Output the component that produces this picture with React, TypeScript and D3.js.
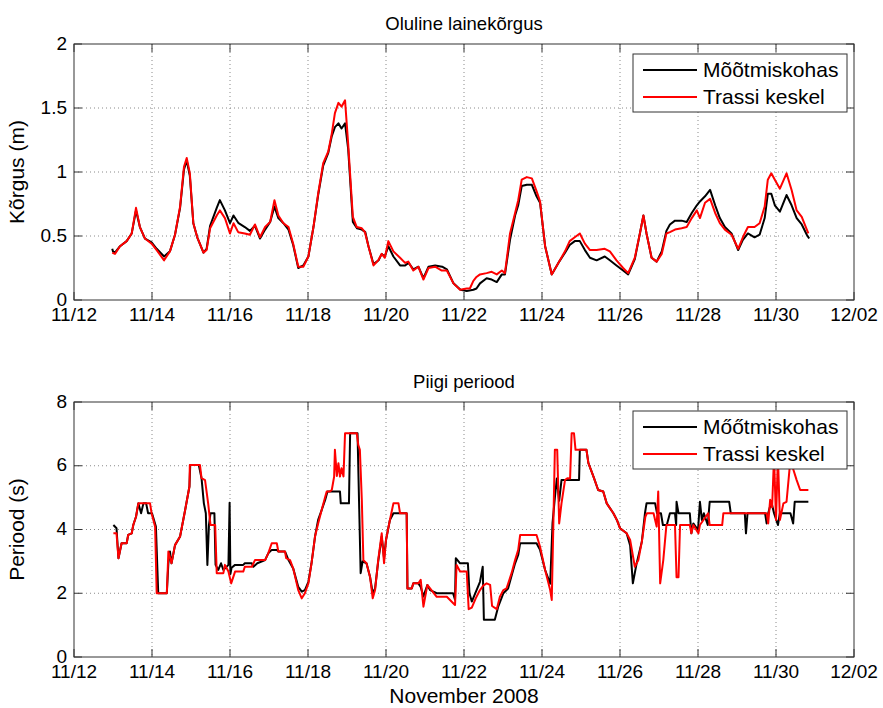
import * as d3 from "d3";

// time is in days after 11/12/2008 00:00
const startDate = new Date(2008, 10, 12).getTime();
const dayMs = 864e5;

const xTickDays = [0, 2, 4, 6, 8, 10, 12, 14, 16, 18, 20];
const hsTicks = [0, 0.5, 1, 1.5, 2];
const tpTicks = [0, 2, 4, 6, 8];
const seriesNames = ["Mõõtmiskohas", "Trassi keskel"];
const seriesNamesLower = ["Mőőtmiskohas", "Trassi keskel"];

// significant wave height (m), measurement site
const hsMeasured: [number, number][] = [
  [0.98, 0.4], [1.0, 0.38], [1.05, 0.37], [1.18, 0.42], [1.35, 0.46], [1.48, 0.52], [1.59, 0.7],
  [1.69, 0.57], [1.82, 0.48], [1.99, 0.45], [2.12, 0.4], [2.31, 0.34], [2.46, 0.38], [2.59, 0.51],
  [2.72, 0.72], [2.82, 1.02], [2.89, 1.09], [2.97, 0.97], [3.06, 0.6], [3.16, 0.49], [3.32, 0.37],
  [3.4, 0.4], [3.49, 0.58], [3.66, 0.72], [3.74, 0.78], [3.87, 0.7], [4.0, 0.6], [4.09, 0.66],
  [4.22, 0.6], [4.38, 0.57], [4.51, 0.54], [4.64, 0.58], [4.77, 0.48], [4.9, 0.55], [5.03, 0.61],
  [5.14, 0.73], [5.24, 0.64], [5.37, 0.6], [5.5, 0.55], [5.62, 0.43], [5.75, 0.25], [5.88, 0.27],
  [6.01, 0.34], [6.14, 0.57], [6.26, 0.82], [6.39, 1.05], [6.52, 1.15], [6.61, 1.28], [6.69, 1.35],
  [6.78, 1.38], [6.86, 1.34], [6.95, 1.38], [7.03, 1.18], [7.15, 0.61], [7.26, 0.56], [7.38, 0.55],
  [7.47, 0.53], [7.55, 0.42], [7.68, 0.28], [7.81, 0.31], [7.89, 0.36], [7.97, 0.34], [8.06, 0.42],
  [8.19, 0.34], [8.36, 0.27], [8.49, 0.27], [8.58, 0.29], [8.7, 0.24], [8.83, 0.26], [8.96, 0.17],
  [9.09, 0.26], [9.26, 0.27], [9.44, 0.26], [9.56, 0.24], [9.73, 0.13], [9.91, 0.08], [10.07, 0.07],
  [10.24, 0.08], [10.32, 0.09], [10.41, 0.13], [10.58, 0.17], [10.71, 0.16], [10.84, 0.14],
  [10.97, 0.2], [11.05, 0.2], [11.18, 0.47], [11.31, 0.66], [11.39, 0.74], [11.48, 0.89],
  [11.61, 0.9], [11.74, 0.9], [11.86, 0.81], [11.95, 0.76], [12.08, 0.42], [12.25, 0.2],
  [12.42, 0.29], [12.59, 0.37], [12.71, 0.43], [12.84, 0.46], [12.97, 0.46], [13.1, 0.39],
  [13.23, 0.33], [13.4, 0.31], [13.61, 0.34], [13.74, 0.31], [13.91, 0.27], [14.08, 0.23],
  [14.21, 0.2], [14.38, 0.32], [14.51, 0.52], [14.6, 0.66], [14.68, 0.52], [14.81, 0.33],
  [14.94, 0.3], [15.07, 0.38], [15.19, 0.54], [15.28, 0.59], [15.41, 0.62], [15.58, 0.62],
  [15.71, 0.61], [15.84, 0.68], [15.97, 0.74], [16.05, 0.77], [16.18, 0.81], [16.31, 0.86],
  [16.44, 0.74], [16.56, 0.64], [16.69, 0.57], [16.86, 0.52], [17.03, 0.39], [17.15, 0.47],
  [17.28, 0.52], [17.45, 0.49], [17.58, 0.51], [17.71, 0.64], [17.79, 0.83], [17.88, 0.83],
  [17.97, 0.74], [18.1, 0.69], [18.27, 0.82], [18.4, 0.74], [18.53, 0.64], [18.66, 0.59],
  [18.79, 0.51], [18.85, 0.48],
];

// significant wave height (m), route centre
const hsTrassi: [number, number][] = [
  [0.98, 0.37], [1.05, 0.36], [1.18, 0.42], [1.35, 0.46], [1.48, 0.52], [1.59, 0.72], [1.69, 0.57],
  [1.82, 0.48], [1.99, 0.44], [2.12, 0.39], [2.31, 0.31], [2.46, 0.38], [2.59, 0.51], [2.72, 0.73],
  [2.82, 1.04], [2.89, 1.11], [2.97, 0.99], [3.06, 0.6], [3.16, 0.49], [3.32, 0.37], [3.4, 0.39],
  [3.49, 0.56], [3.66, 0.66], [3.74, 0.7], [3.87, 0.64], [4.0, 0.52], [4.09, 0.6], [4.21, 0.53],
  [4.38, 0.52], [4.51, 0.51], [4.64, 0.59], [4.77, 0.49], [4.9, 0.57], [5.03, 0.61], [5.14, 0.78],
  [5.24, 0.66], [5.37, 0.6], [5.5, 0.57], [5.62, 0.44], [5.75, 0.26], [5.88, 0.26], [6.01, 0.34],
  [6.14, 0.57], [6.26, 0.83], [6.39, 1.07], [6.52, 1.16], [6.61, 1.3], [6.69, 1.46], [6.78, 1.54],
  [6.86, 1.51], [6.95, 1.56], [7.03, 1.22], [7.15, 0.65], [7.25, 0.57], [7.38, 0.56], [7.46, 0.53],
  [7.55, 0.42], [7.68, 0.27], [7.8, 0.31], [7.89, 0.36], [7.97, 0.33], [8.06, 0.46], [8.19, 0.38],
  [8.36, 0.33], [8.49, 0.29], [8.57, 0.3], [8.7, 0.23], [8.83, 0.26], [8.96, 0.16], [9.09, 0.25],
  [9.26, 0.26], [9.43, 0.23], [9.56, 0.23], [9.73, 0.13], [9.9, 0.08], [10.07, 0.09], [10.15, 0.09],
  [10.24, 0.15], [10.32, 0.18], [10.41, 0.2], [10.58, 0.21], [10.71, 0.22], [10.84, 0.2],
  [10.97, 0.23], [11.05, 0.21], [11.18, 0.52], [11.31, 0.68], [11.39, 0.78], [11.48, 0.94],
  [11.61, 0.96], [11.74, 0.95], [11.86, 0.85], [11.95, 0.77], [12.08, 0.42], [12.25, 0.2],
  [12.42, 0.29], [12.59, 0.38], [12.71, 0.46], [12.84, 0.49], [12.97, 0.52], [13.1, 0.44],
  [13.23, 0.39], [13.4, 0.39], [13.61, 0.4], [13.74, 0.38], [13.91, 0.31], [14.08, 0.25],
  [14.21, 0.21], [14.38, 0.33], [14.51, 0.52], [14.6, 0.66], [14.68, 0.52], [14.81, 0.33],
  [14.94, 0.3], [15.07, 0.36], [15.19, 0.52], [15.28, 0.53], [15.41, 0.55], [15.58, 0.56],
  [15.71, 0.57], [15.84, 0.64], [15.97, 0.7], [16.05, 0.64], [16.18, 0.76], [16.31, 0.79],
  [16.44, 0.68], [16.56, 0.6], [16.69, 0.55], [16.86, 0.51], [17.03, 0.4], [17.15, 0.49],
  [17.28, 0.57], [17.45, 0.57], [17.58, 0.6], [17.71, 0.73], [17.79, 0.94], [17.88, 0.99],
  [17.97, 0.94], [18.1, 0.87], [18.27, 0.99], [18.4, 0.86], [18.53, 0.7], [18.66, 0.65],
  [18.79, 0.55], [18.83, 0.52],
];

// peak period (s), measurement site
const tpMeasured: [number, number][] = [
  [1.01, 4.14], [1.09, 4.04], [1.14, 3.1], [1.22, 3.57], [1.35, 3.57], [1.39, 3.83], [1.48, 3.88],
  [1.52, 4.14], [1.59, 4.4], [1.65, 4.82], [1.72, 4.51], [1.78, 4.82], [1.85, 4.82], [1.9, 4.51],
  [2.0, 4.51], [2.1, 4.09], [2.16, 2.0], [2.38, 2.0], [2.42, 2.94], [2.46, 3.31], [2.5, 2.94],
  [2.59, 3.51], [2.72, 3.78], [2.85, 4.61], [2.96, 5.35], [2.98, 6.02], [3.2, 6.02], [3.27, 5.61],
  [3.33, 4.82], [3.38, 4.51], [3.42, 2.89], [3.46, 4.14], [3.5, 4.51], [3.6, 4.51], [3.63, 2.89],
  [3.7, 2.73], [3.77, 2.94], [3.83, 2.73], [3.96, 2.89], [3.99, 4.84], [4.01, 2.6], [4.04, 2.8],
  [4.13, 2.89], [4.34, 2.89], [4.38, 2.94], [4.56, 2.94], [4.6, 2.83], [4.7, 2.94], [4.9, 3.04],
  [4.98, 3.25], [5.07, 3.36], [5.2, 3.36], [5.24, 3.31], [5.41, 3.31], [5.5, 3.04], [5.62, 2.78],
  [5.75, 2.2], [5.84, 2.05], [5.92, 2.1], [6.01, 2.36], [6.09, 2.94], [6.18, 3.78], [6.26, 4.3],
  [6.35, 4.61], [6.44, 4.93], [6.5, 5.19], [6.82, 5.19], [6.84, 4.82], [7.05, 4.82], [7.08, 7.02],
  [7.27, 7.02], [7.35, 2.63], [7.4, 3.0], [7.5, 2.94], [7.59, 2.52], [7.66, 2.0], [7.72, 2.15],
  [7.8, 3.0], [7.89, 3.78], [7.95, 3.1], [8.0, 3.67], [8.1, 4.3], [8.19, 4.51], [8.53, 4.51],
  [8.55, 2.15], [8.66, 2.15], [8.7, 2.31], [8.83, 2.31], [8.89, 2.2], [8.96, 1.9], [9.06, 2.26],
  [9.13, 2.1], [9.3, 2.0], [9.72, 2.0], [9.77, 1.8], [9.79, 3.1], [9.9, 2.94], [10.1, 2.94],
  [10.14, 2.0], [10.2, 1.74], [10.41, 2.36], [10.48, 2.83], [10.51, 1.17], [10.79, 1.17],
  [10.88, 1.59], [11.01, 2.0], [11.13, 2.15], [11.22, 2.55], [11.31, 2.94], [11.39, 3.2],
  [11.44, 3.57], [11.86, 3.57], [11.95, 3.36], [12.08, 2.73], [12.21, 2.3], [12.27, 4.2],
  [12.33, 5.0], [12.38, 5.6], [12.44, 4.9], [12.5, 5.55], [12.95, 5.55], [12.97, 6.5], [13.14, 6.5],
  [13.19, 6.08], [13.32, 5.66], [13.44, 5.24], [13.57, 5.19], [13.66, 4.82], [13.83, 4.51],
  [13.92, 4.3], [14.0, 4.04], [14.17, 3.88], [14.26, 3.5], [14.33, 2.31], [14.42, 2.9],
  [14.56, 3.62], [14.64, 4.51], [14.68, 4.82], [14.9, 4.82], [14.95, 4.51], [15.05, 4.51],
  [15.1, 4.14], [15.2, 4.14], [15.28, 4.51], [15.41, 4.51], [15.44, 4.14], [15.45, 4.87],
  [15.5, 4.51], [15.79, 4.51], [15.83, 3.88], [15.88, 4.19], [16.0, 3.98], [16.05, 4.87],
  [16.1, 4.3], [16.15, 4.51], [16.25, 4.14], [16.3, 4.87], [16.8, 4.87], [16.84, 4.51],
  [17.2, 4.51], [17.23, 3.88], [17.27, 4.51], [17.72, 4.51], [17.76, 4.19], [17.8, 4.51],
  [17.88, 4.87], [17.95, 4.51], [18.05, 4.14], [18.1, 4.51], [18.37, 4.51], [18.44, 4.19],
  [18.48, 4.87], [18.83, 4.87],
];

// peak period (s), route centre
const tpTrassi: [number, number][] = [
  [1.01, 3.88], [1.09, 3.88], [1.14, 3.1], [1.22, 3.57], [1.35, 3.57], [1.39, 3.83], [1.48, 3.88],
  [1.52, 4.14], [1.59, 4.4], [1.65, 4.82], [1.95, 4.82], [1.99, 4.51], [2.08, 4.09], [2.12, 2.0],
  [2.38, 2.0], [2.42, 3.31], [2.5, 2.94], [2.59, 3.51], [2.72, 3.78], [2.85, 4.61], [2.96, 5.35],
  [2.97, 6.02], [3.23, 6.02], [3.27, 5.61], [3.36, 5.55], [3.44, 4.82], [3.5, 4.14], [3.62, 4.14],
  [3.66, 2.63], [3.83, 2.63], [3.87, 2.89], [3.96, 2.68], [4.03, 2.31], [4.13, 2.68], [4.34, 2.68],
  [4.38, 2.83], [4.56, 2.83], [4.64, 3.04], [4.9, 3.04], [4.98, 3.25], [5.07, 3.57], [5.2, 3.57],
  [5.24, 3.31], [5.41, 3.31], [5.44, 3.1], [5.54, 3.04], [5.62, 2.78], [5.75, 2.1], [5.84, 1.84],
  [5.92, 2.0], [6.01, 2.31], [6.09, 2.94], [6.18, 3.78], [6.26, 4.19], [6.35, 4.61], [6.44, 5.02],
  [6.48, 5.19], [6.56, 5.19], [6.61, 5.24], [6.67, 5.66], [6.69, 6.5], [6.74, 5.68], [6.78, 6.08],
  [6.82, 5.66], [6.86, 5.92], [6.91, 5.66], [6.95, 7.02], [7.25, 7.02], [7.29, 6.65], [7.33, 6.5],
  [7.38, 4.93], [7.42, 3.04], [7.5, 2.94], [7.59, 2.52], [7.66, 1.84], [7.72, 2.1], [7.8, 3.04],
  [7.89, 3.88], [7.95, 2.94], [8.0, 3.67], [8.1, 4.3], [8.19, 4.82], [8.32, 4.82], [8.36, 4.51],
  [8.53, 4.51], [8.55, 2.15], [8.66, 2.15], [8.7, 2.31], [8.83, 2.31], [8.89, 2.42], [8.96, 1.58],
  [9.06, 2.26], [9.13, 2.15], [9.3, 1.89], [9.56, 1.89], [9.73, 1.68], [9.77, 1.63], [9.81, 2.89],
  [9.9, 2.68], [10.07, 2.68], [10.12, 1.5], [10.2, 1.55], [10.3, 1.84], [10.41, 2.1], [10.5, 2.25],
  [10.58, 2.31], [10.67, 2.26], [10.72, 1.6], [10.84, 1.5], [10.92, 1.89], [11.01, 2.1],
  [11.09, 2.15], [11.22, 2.63], [11.31, 3.04], [11.39, 3.36], [11.44, 3.83], [11.86, 3.83],
  [11.95, 3.46], [12.08, 2.73], [12.21, 2.1], [12.25, 1.79], [12.29, 4.09], [12.33, 6.5],
  [12.39, 6.5], [12.44, 4.19], [12.5, 4.82], [12.59, 5.55], [12.65, 5.61], [12.72, 5.6],
  [12.76, 7.02], [12.82, 7.02], [12.86, 6.5], [13.14, 6.5], [13.19, 6.08], [13.32, 5.66],
  [13.44, 5.24], [13.57, 5.19], [13.66, 4.82], [13.83, 4.51], [13.92, 4.3], [14.0, 4.04],
  [14.17, 3.88], [14.26, 3.67], [14.38, 2.83], [14.47, 3.04], [14.56, 3.62], [14.65, 4.4],
  [14.69, 4.51], [14.86, 4.51], [14.94, 4.09], [14.98, 5.19], [15.03, 2.31], [15.11, 3.04],
  [15.19, 4.14], [15.41, 4.14], [15.45, 2.5], [15.5, 2.5], [15.54, 4.14], [15.79, 4.14],
  [15.83, 3.88], [15.88, 4.14], [16.01, 3.88], [16.05, 4.14], [16.26, 4.51], [16.3, 4.14],
  [16.62, 4.14], [16.65, 4.51], [17.76, 4.51], [17.8, 4.19], [17.85, 4.93], [17.9, 4.7],
  [17.95, 6.3], [18.0, 4.3], [18.05, 6.3], [18.1, 4.3], [18.19, 4.82], [18.27, 4.87], [18.37, 6.2],
  [18.44, 5.9], [18.53, 5.55], [18.62, 5.24], [18.83, 5.24],
];

const toDate = (d: number) => new Date(startDate + d * dayMs);

const font = "'Liberation Sans', Arial, sans-serif";
const plotLeft = 74;
const plotRight = 854;

type PanelProps = {
  top: number;
  bottom: number;
  title: string;
  ylabel: string;
  yMax: number;
  yTicks: number[];
  measured: [number, number][];
  trassi: [number, number][];
  names: string[];
  legendTop: number;
};

function Panel({ top, bottom, title, ylabel, yMax, yTicks, measured, trassi, names, legendTop }: PanelProps) {
  const x = d3.scaleTime().domain([toDate(0), toDate(20)]).range([plotLeft, plotRight]);
  const y = d3.scaleLinear().domain([0, yMax]).range([bottom, top]);
  const line = d3
    .line<[number, number]>()
    .x((d) => x(toDate(d[0])))
    .y((d) => y(d[1]));
  const fmt = d3.timeFormat("%m/%d");
  const tickLen = 8;
  const clipId = `clip-${top}`;
  const legendLeft = 633;
  const legendW = 214;
  const legendH = 58;

  return (
    <g>
      <defs>
        <clipPath id={clipId}>
          <rect x={plotLeft} y={top} width={plotRight - plotLeft} height={bottom - top} />
        </clipPath>
      </defs>
      <text x={(plotLeft + plotRight) / 2} y={top - 14} textAnchor="middle" fontSize={18.5} fontFamily={font}>
        {title}
      </text>
      {/* grid */}
      {xTickDays.slice(1, -1).map((d) => (
        <line key={`gx${d}`} x1={x(toDate(d))} x2={x(toDate(d))} y1={top} y2={bottom}
          stroke="#8a8a8a" strokeWidth={1} strokeDasharray="1,3" />
      ))}
      {yTicks.slice(1, -1).map((v) => (
        <line key={`gy${v}`} x1={plotLeft} x2={plotRight} y1={y(v)} y2={y(v)}
          stroke="#8a8a8a" strokeWidth={1} strokeDasharray="1,3" />
      ))}
      {/* series */}
      <g clipPath={`url(#${clipId})`}>
        <path d={line(measured) ?? ""} fill="none" stroke="#000" strokeWidth={2} strokeLinejoin="round" />
        <path d={line(trassi) ?? ""} fill="none" stroke="#ff0000" strokeWidth={2} strokeLinejoin="round" />
      </g>
      {/* axes box and ticks */}
      <rect x={plotLeft} y={top} width={plotRight - plotLeft} height={bottom - top}
        fill="none" stroke="#333" strokeWidth={1} />
      {xTickDays.map((d) => (
        <g key={`tx${d}`}>
          <line x1={x(toDate(d))} x2={x(toDate(d))} y1={bottom} y2={bottom - tickLen} stroke="#333" />
          <line x1={x(toDate(d))} x2={x(toDate(d))} y1={top} y2={top + tickLen} stroke="#333" />
          <text x={x(toDate(d))} y={bottom + 21} textAnchor="middle" fontSize={19} fontFamily={font}>
            {fmt(toDate(d))}
          </text>
        </g>
      ))}
      {yTicks.map((v) => (
        <g key={`ty${v}`}>
          <line x1={plotLeft} x2={plotLeft + tickLen} y1={y(v)} y2={y(v)} stroke="#333" />
          <line x1={plotRight} x2={plotRight - tickLen} y1={y(v)} y2={y(v)} stroke="#333" />
          <text x={plotLeft - 7} y={y(v)} dy="0.3em" textAnchor="end" fontSize={19} fontFamily={font}>
            {String(v)}
          </text>
        </g>
      ))}
      <text transform={`translate(24,${(top + bottom) / 2}) rotate(-90)`} textAnchor="middle"
        fontSize={21} fontFamily={font}>
        {ylabel}
      </text>
      {/* legend */}
      <rect x={legendLeft} y={legendTop} width={legendW} height={legendH} fill="#fff" stroke="#333" strokeWidth={1} />
      {names.map((n, i) => (
        <g key={n}>
          <line x1={legendLeft + 10} x2={legendLeft + 64} y1={legendTop + 16 + i * 27} y2={legendTop + 16 + i * 27}
            stroke={i === 0 ? "#000" : "#ff0000"} strokeWidth={2} />
          <text x={legendLeft + 70} y={legendTop + 16 + i * 27} dy="0.35em" fontSize={21} fontFamily={font}>
            {n}
          </text>
        </g>
      ))}
    </g>
  );
}

export default function App() {
  return (
    <svg width={883} height={708} style={{ position: "absolute", left: 0, top: 0, background: "#fff" }}>
      <rect width={883} height={708} fill="#fff" />
      <Panel top={44} bottom={300} title="Oluline lainekõrgus" ylabel="Kõrgus (m)" yMax={2} yTicks={hsTicks}
        measured={hsMeasured} trassi={hsTrassi} names={seriesNames} legendTop={54} />
      <Panel top={402} bottom={657} title="Piigi periood" ylabel="Periood (s)" yMax={8} yTicks={tpTicks}
        measured={tpMeasured} trassi={tpTrassi} names={seriesNamesLower} legendTop={411} />
      <text x={(plotLeft + plotRight) / 2} y={703} textAnchor="middle" fontSize={21} fontFamily={font}>
        November 2008
      </text>
    </svg>
  );
}
